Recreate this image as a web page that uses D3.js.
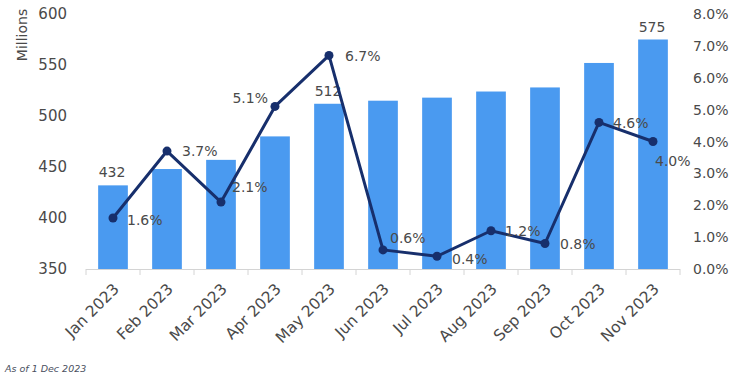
<!DOCTYPE html>
<html>
<head>
<meta charset="utf-8">
<script src="https://cdn.jsdelivr.net/npm/d3@7"></script>
<style>
  body { margin: 0; background: #fff; }
  svg text { font-family: "DejaVu Sans", sans-serif; fill: #4a4a4a; }
</style>
</head>
<body>
<div class="visHolder"></div>
<script>
// ========================================
// Data
// ========================================
const months = ['Jan 2023', 'Feb 2023', 'Mar 2023', 'Apr 2023', 'May 2023', 'Jun 2023',
                'Jul 2023', 'Aug 2023', 'Sep 2023', 'Oct 2023', 'Nov 2023'];
const users = [432, 448, 457, 480, 512, 515, 518, 524, 528, 552, 575];   // Millions (bars)
const growth = [1.6, 3.7, 2.1, 5.1, 6.7, 0.6, 0.4, 1.2, 0.8, 4.6, 4.0];  // % (line)
const barLabelled = ['Jan 2023', 'May 2023', 'Nov 2023'];                // bars with a value label
const leftTicks = [350, 400, 450, 500, 550, 600];
const rightTicks = [0, 1, 2, 3, 4, 5, 6, 7, 8];

// label offsets (dx, dy) of the % labels, relative to each point
const pctOffsets = [[14, 2], [15, 0], [11, -15], [-7, -8], [16, 1], [7, -12],
                    [15, 3], [14, 0], [15, 0], [14, 1], [2, 19]];

// ========================================
// Dimensions
// ========================================
const
  width = 748,
  height = 383,
  plotLeft = 86,
  plotRight = 680,
  plotTop = 14,
  plotBottom = 269,
  barColor = '#4a9af0',
  lineColor = '#172f6c';

const svg = d3.select('.visHolder')
  .append('svg')
    .attr('width', width)
    .attr('height', height);

// ========================================
// Scales
// ========================================
const xScale = d3.scaleBand()
  .domain(months)
  .range([plotLeft, plotRight])
  .paddingInner(0.45)
  .paddingOuter(0.225);

const yLeft = d3.scaleLinear().domain([350, 600]).range([plotBottom, plotTop]);
const yRight = d3.scaleLinear().domain([0, 8]).range([plotBottom, plotTop]);
const xMid = d => xScale(d) + xScale.bandwidth() / 2;

// ========================================
// Bars
// ========================================
svg.append('g')
  .selectAll('rect')
  .data(months)
  .enter()
  .append('rect')
    .attr('x', d => xScale(d))
    .attr('y', (d, i) => yLeft(users[i]))
    .attr('width', xScale.bandwidth())
    .attr('height', (d, i) => yLeft(350) - yLeft(users[i]))
    .style('fill', barColor);

// bar value labels
svg.append('g')
  .selectAll('text')
  .data(months.filter(m => barLabelled.includes(m)))
  .enter()
  .append('text')
    .attr('x', d => xMid(d) - 1)
    .attr('y', d => yLeft(users[months.indexOf(d)]) - 8)
    .attr('text-anchor', 'middle')
    .style('font-size', '14px')
    .text(d => users[months.indexOf(d)]);

// ========================================
// Bottom axis: line + ticks between categories
// ========================================
const bounds = d3.range(months.length + 1).map(i => xScale.range()[0] + i * xScale.step());
const xAxis = svg.append('g');
xAxis.append('line')
  .attr('x1', bounds[0]).attr('x2', bounds[bounds.length - 1])
  .attr('y1', plotBottom + 0.5).attr('y2', plotBottom + 0.5)
  .style('stroke', '#d4d4d4');
xAxis.selectAll('.tick')
  .data(bounds)
  .enter()
  .append('line')
    .attr('x1', d => d).attr('x2', d => d)
    .attr('y1', plotBottom).attr('y2', plotBottom + 6)
    .style('stroke', '#d4d4d4');

xAxis.selectAll('text')
  .data(months)
  .enter()
  .append('text')
    .attr('transform', d => 'translate(' + (xMid(d) + 7) + ',' + (plotBottom + 21) + ') rotate(-45)')
    .attr('text-anchor', 'end')
    .style('font-size', '15.5px')
    .text(d => d);

// ========================================
// Left and right tick labels
// ========================================
svg.append('g')
  .selectAll('text')
  .data(leftTicks)
  .enter()
  .append('text')
    .attr('x', 67)
    .attr('y', d => yLeft(d))
    .attr('dy', '0.36em')
    .attr('text-anchor', 'end')
    .style('font-size', '15px')
    .text(d => d);

svg.append('g')
  .selectAll('text')
  .data(rightTicks)
  .enter()
  .append('text')
    .attr('x', 693)
    .attr('y', d => yRight(d))
    .attr('dy', '0.36em')
    .style('font-size', '14px')
    .text(d => d3.format('.1f')(d) + '%');

svg.append('text')
  .attr('transform', 'translate(27,35) rotate(-90)')
  .attr('text-anchor', 'middle')
  .style('font-size', '14px')
  .text('Millions');

// ========================================
// Growth line with points and labels
// ========================================
const line = d3.line()
  .x((d, i) => xMid(months[i]))
  .y(d => yRight(d));

svg.append('path')
  .datum(growth)
  .attr('d', line)
  .style('fill', 'none')
  .style('stroke', lineColor)
  .style('stroke-width', 3)
  .style('stroke-linejoin', 'round');

svg.append('g')
  .selectAll('circle')
  .data(growth)
  .enter()
  .append('circle')
    .attr('cx', (d, i) => xMid(months[i]))
    .attr('cy', d => yRight(d))
    .attr('r', 4.5)
    .style('fill', lineColor);

svg.append('g')
  .selectAll('text')
  .data(growth)
  .enter()
  .append('text')
    .attr('x', (d, i) => xMid(months[i]) + pctOffsets[i][0])
    .attr('y', (d, i) => yRight(d) + pctOffsets[i][1])
    .attr('dy', '0.36em')
    .attr('text-anchor', (d, i) => pctOffsets[i][0] < 0 ? 'end' : 'start')
    .style('font-size', '14px')
    .text(d => d3.format('.1f')(d) + '%');

// ========================================
// Footnote
// ========================================
svg.append('text')
  .attr('x', 5)
  .attr('y', 372)
  .style('font-size', '9.5px')
  .style('font-style', 'italic')
  .style('fill', '#4a5060')
  .text('As of 1 Dec 2023');
</script>
</body>
</html>
